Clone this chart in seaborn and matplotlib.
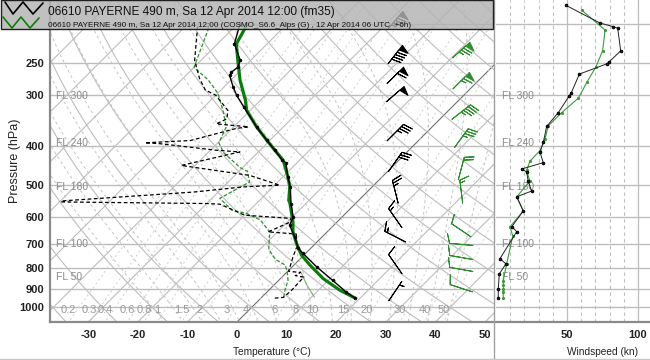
import numpy as np
import pandas as pd
import matplotlib
matplotlib.use("Agg")
import matplotlib.pyplot as plt
import matplotlib.transforms as mtransforms
from matplotlib.lines import Line2D
from matplotlib.patches import Rectangle
import seaborn as sns

# ---------------- data ----------------
obs_t_p = [949, 918, 859, 795, 737, 716, 671, 628, 600, 555, 505, 477, 440, 434, 410, 387, 359,
           320, 300, 286, 268, 263, 256, 246, 224, 200]
obs_t = [18.9, 16.0, 10.9, 4.9, -0.5, -2.5, -5.5, -8.9, -9.8, -13.0, -16.5, -19.0, -22.3, -23.5,
         -27.0, -30.7, -35.4, -42.1, -45.8, -48.2, -51.2, -51.5, -51.2, -52.1, -56.6, -59.5]

obs_td_p = [950, 946, 908, 843, 836, 821, 816, 753, 710, 660, 652, 619, 604, 593, 557, 555, 550,
            547, 520, 505, 500, 473, 447, 414, 410, 395, 393, 388, 362, 359, 353, 343, 327, 300,
            291, 273, 246, 200]
obs_td = [2.8, 4.4, 4.6, 4.4, 2.4, 2.8, 0.2, -1.8, -3.1, -5.8, -11.9, -9.6, -9.9, -20.0, -27.2,
          -30.0, -59.5, -59.9, -35.0, -26.0, -19.0, -27.0, -42.8, -33.7, -38.8, -51.5, -54.7,
          -46.0, -39.1, -37.0, -44.1, -43.0, -44.5, -50.0, -53.2, -56.6, -61.3, -68.0]

mod_t_p = [949, 908, 850, 787, 744, 697, 652, 616, 587, 555, 545, 505, 477, 434, 410, 387, 359,
           327, 308, 275, 241, 224, 200]
mod_t = [18.9, 14.3, 8.6, 3.2, -0.5, -3.8, -6.9, -8.9, -10.9, -13.2, -14.1, -16.6, -19.0, -23.3,
         -27.0, -30.7, -35.4, -40.7, -43.1, -48.2, -53.4, -56.2, -58.0]

mod_td_p = [945, 900, 859, 816, 787, 763, 721, 652, 609, 587, 576, 539, 491, 462, 453, 416, 393,
            359, 327, 297, 275, 256, 200]
mod_td = [4.4, 3.0, 1.9, -0.1, -1.8, -4.8, -8.2, -11.6, -15.9, -20.0, -23.6, -28.4, -25.7, -28.3,
          -30.4, -36.8, -39.8, -41.5, -45.5, -49.9, -54.6, -60.0, -65.5]

mod_aux_p = [945, 880, 816]
mod_aux = [10.6, 6.5, 2.6]

# wind speed profiles (kn)
obs_ws_p = [180, 199, 203, 205, 233, 248, 251, 266, 297, 301, 331, 358, 392, 415, 440, 456, 464,
            489, 517, 534, 579, 633, 651, 759, 782, 828, 901, 949]
obs_ws = [49.3, 73.2, 82.2, 85.7, 87.8, 79.8, 78.0, 58.7, 52.8, 51.6, 43.9, 35.7, 33.3, 31.0, 33.3,
          18.1, 21.6, 22.7, 25.1, 14.6, 19.2, 11.1, 14.6, 2.8, 7.0, 2.3, 1.6, 1.6]
mod_ws_p = [185, 207, 233, 255, 279, 305, 331, 357, 385, 411, 436, 460, 489, 534, 579, 633, 668,
            782, 860, 880, 900, 920, 949]
mod_ws = [60.4, 76.8, 75.1, 70.4, 63.9, 58.0, 46.3, 36.8, 34.5, 31.0, 23.9, 21.6, 23.9, 14.6, 19.2,
          9.9, 11.8, 7.5, 5.1, 5.1, 5.2, 5.1, 5.1]

# wind barbs: pressure, speed (kn), direction (deg, from)
obs_barb_p = [196, 238, 268, 298, 371, 438, 519, 603, 670, 783, 913]
obs_barb_spd = [85, 90, 60, 50, 35, 30, 25, 15, 15, 10, 5]
obs_barb_dir = [40, 38, 45, 49, 45, 35, 346, 325, 297, 325, 34]
mod_barb_p = [232, 276, 330, 383, 455, 519, 646, 700, 754, 807, 898]
mod_barb_spd = [75, 65, 45, 35, 20, 15, 10, 10, 10, 10, 10]
mod_barb_dir = [48, 45, 52, 36, 15, 353, 304, 275, 280, 280, 288]

isobars = [200, 250, 300, 400, 500, 600, 700, 800, 900, 1000]
p_ticks = [250, 300, 400, 500, 600, 700, 800, 900, 1000]
t_ticks = [-30, -20, -10, 0, 10, 20, 30, 40, 50]
ws_ticks = [50, 100]
mix_ratios = [0.2, 0.3, 0.4, 0.6, 0.8, 1, 1.5, 2, 3, 4, 6, 8, 10, 15, 20, 30, 40, 50]
mix_labels = ["0.2", "0.3", "0.4", "0.6", "0.8", "1", "1.5", "2", "3", "4", "6", "8", "10",
              "15", "20", "30", "40", "50"]
fl_labels = ["FL 300", "FL 240", "FL 180", "FL 100", "FL 50"]
fl_p = [300.9, 392.7, 505.9, 696.8, 843.1]
title1 = "06610 PAYERNE 490 m, Sa 12 Apr 2014 12:00 (fm35)"
title2 = "06610 PAYERNE 490 m, Sa 12 Apr 2014 12:00 (COSMO_S6.6_Alps (G) , 12 Apr 2014 06 UTC  +6h)"

# ---------------- setup ----------------
sns.set_theme(style="white")
plt.rcParams["font.family"] = ["Liberation Sans", "DejaVu Sans"]

P_BOT, P_TOP = 1088.0, 174.6
K = 35.48
XMIN, XMAX = -37.7, 51.8


def skew(t, p):
    return np.asarray(t, float) + K * np.log(P_BOT / np.asarray(p, float))


W, H = 650, 360


def box(l, t, r, b):
    return [l / W, 1 - b / H, (r - l) / W, (b - t) / H]


fig = plt.figure(figsize=(6.5, 3.6), dpi=100)
fig.patch.set_facecolor("white")
ax = fig.add_axes(box(50, 0, 494, 322))
axw = fig.add_axes(box(496, 0, 709, 322))

for a in (ax, axw):
    a.set_yscale("log")
    a.set_ylim(P_BOT, P_TOP)
    a.set_facecolor("white")
    a.minorticks_off()

ax.set_xlim(XMIN, XMAX)
axw.set_xlim(0, 150)

GRID = "#bdbdbd"
pp = np.geomspace(1100, 170, 300)

# isobars
for p in isobars:
    ax.axhline(p, color=GRID, lw=1.0, zorder=1)
    axw.axhline(p, color=GRID, lw=1.0, zorder=1)

# isotherms
for t in range(-130, 60, 10):
    ax.plot(skew(np.full_like(pp, t), pp), pp, color="#707070" if t == 0 else GRID,
            lw=0.8, zorder=1)

# dry adiabats
for th in range(233, 480, 10):
    tt = th * (pp / 1000.0) ** 0.2857 - 273.15
    ax.plot(skew(tt, pp), pp, color=GRID, lw=0.8, zorder=1)


# moist adiabats
def es(tc):
    return 6.112 * np.exp(17.67 * tc / (tc + 243.5))


def dTdp(T, p):
    Rd, Cp, Lv, eps = 287.04, 1005.7, 2.501e6, 0.622
    tc = T - 273.15
    rs = eps * es(tc) / (p - es(tc))
    return (Rd * T + Lv * rs) / (Cp + Lv * Lv * rs * eps / (Rd * T * T)) / p


def moist(t0, ps):
    T = t0 + 273.15
    out = [T]
    for i in range(1, len(ps)):
        dp = ps[i] - ps[i - 1]
        k1 = dTdp(T, ps[i - 1])
        k2 = dTdp(T + k1 * dp, ps[i])
        T = T + 0.5 * (k1 + k2) * dp
        out.append(T)
    return np.array(out) - 273.15


p_up = np.geomspace(1000, 170, 200)
p_dn = np.geomspace(1000, 1100, 20)
for tw in range(-20, 41, 4):
    tu = moist(tw, p_up)
    td_ = moist(tw, p_dn)
    ax.plot(skew(tu, p_up), p_up, color="#c4c4c4", lw=0.7, ls=(0, (3, 3)), zorder=1)
    ax.plot(skew(td_, p_dn), p_dn, color="#c4c4c4", lw=0.7, ls=(0, (3, 3)), zorder=1)


# mixing ratio lines
def td_from_w(w, p):
    e = w * p / (622.0 + w)
    l = np.log(e / 6.112)
    return 243.5 * l / (17.67 - l)


blend = mtransforms.blended_transform_factory(ax.transData, ax.transAxes)
for w, lab in zip(mix_ratios, mix_labels):
    ax.plot(skew(td_from_w(w, pp), pp), pp, color="#cfcfcf", lw=0.7, ls=(0, (2, 3)), zorder=1)
    ax.text(td_from_w(w, P_BOT), 0.037, lab, transform=blend, ha="center", va="center",
            fontsize=8, color="#9a9a9a", zorder=2)

# FL labels
for lab, p in zip(fl_labels, fl_p):
    ax.text(0.013, p, lab, transform=mtransforms.blended_transform_factory(ax.transAxes, ax.transData),
            fontsize=7.5, color="#8a8a8a", va="center", ha="left", zorder=2)
    axw.text(0.028, p, lab, transform=mtransforms.blended_transform_factory(axw.transAxes, axw.transData),
             fontsize=7.5, color="#8a8a8a", va="center", ha="left", zorder=2)

# wind panel vertical grid
for s in range(10, 150, 10):
    if s % 50 == 0:
        axw.axvline(s, color=GRID, lw=0.9, zorder=1)
    else:
        axw.axvline(s, color=GRID, lw=0.8, ls=(0, (3, 3)), zorder=1)

# ---------------- profiles ----------------
GREEN = "#0c7d0c"
GREEN2 = "#2f8f2f"
d_mod_t = pd.DataFrame({"x": skew(mod_t, mod_t_p), "p": mod_t_p})
d_obs_t = pd.DataFrame({"x": skew(obs_t, obs_t_p), "p": obs_t_p})
d_obs_td = pd.DataFrame({"x": skew(obs_td, obs_td_p), "p": obs_td_p})
d_mod_td = pd.DataFrame({"x": skew(mod_td, mod_td_p), "p": mod_td_p})
d_mod_aux = pd.DataFrame({"x": skew(mod_aux, mod_aux_p), "p": mod_aux_p})

sns.lineplot(data=d_mod_td, x="x", y="p", sort=False, estimator=None, color=GREEN2, lw=0.9,
             ls=(0, (3, 1.5)), ax=ax, zorder=3)
sns.lineplot(data=d_mod_aux, x="x", y="p", sort=False, estimator=None, color="#6aa86a", lw=0.7,
             ax=ax, zorder=3)
sns.lineplot(data=d_obs_td, x="x", y="p", sort=False, estimator=None, color="black", lw=0.9,
             ls=(0, (3, 2)), ax=ax, zorder=4)
sns.lineplot(data=d_mod_t, x="x", y="p", sort=False, estimator=None, color=GREEN, lw=2.3,
             ax=ax, zorder=5)
sns.lineplot(data=d_obs_t, x="x", y="p", sort=False, estimator=None, color="black", lw=1.0,
             marker="o", ms=2.0, mec="black", mew=0.5, ax=ax, zorder=6)

# barbs
def uv(spd, d):
    spd = np.asarray(spd, float)
    r = np.deg2rad(np.asarray(d, float))
    return -spd * np.sin(r), -spd * np.cos(r)


u, v = uv(obs_barb_spd, obs_barb_dir)
ax.barbs(np.full(len(obs_barb_p), 31.9), obs_barb_p, u, v, length=5.8, pivot="middle",
         color="black", lw=0.7, zorder=6)
u, v = uv(mod_barb_spd, mod_barb_dir)
ax.barbs(np.full(len(mod_barb_p), 45.2), mod_barb_p, u, v, length=5.8, pivot="middle",
         color=GREEN2, lw=0.7, zorder=6)

# wind speed panel
d_obs_ws = pd.DataFrame({"s": obs_ws, "p": obs_ws_p})
d_mod_ws = pd.DataFrame({"s": mod_ws, "p": mod_ws_p})
sns.lineplot(data=d_mod_ws, x="s", y="p", sort=False, estimator=None, color="#3c9a3c", lw=0.8,
             marker="o", ms=1.5, mec="#3c9a3c", ax=axw, zorder=4)
sns.lineplot(data=d_obs_ws, x="s", y="p", sort=False, estimator=None, color="#222222", lw=0.7,
             marker="o", ms=1.8, mec="black", ax=axw, zorder=5)

# ---------------- axes styling ----------------
ax.set_xticks(t_ticks)
ax.set_xticklabels([str(t) for t in t_ticks], fontweight="bold")
ax.set_yticks(p_ticks)
ax.set_yticklabels([str(p) for p in p_ticks], fontweight="bold")
ax.tick_params(axis="both", length=0, labelsize=8, colors="#222222")
ax.tick_params(axis="x", pad=6)
ax.tick_params(axis="y", pad=4)
ax.set_xlabel("Temperature (°C)", fontsize=7.3, color="#222222", labelpad=5)
ax.set_ylabel("Pressure (hPa)", fontsize=9, color="#222222")
ax.yaxis.label.set_va("center")
ax.yaxis.set_label_coords(-35 / 444, 0.5)
for s in ("top", "right"):
    ax.spines[s].set_visible(False)
for s in ("left", "bottom"):
    ax.spines[s].set_color("#8a8a8a")
    ax.spines[s].set_linewidth(1.6)
    ax.spines[s].set_zorder(8)

axw.set_xticks(ws_ticks)
axw.set_xticklabels([str(t) for t in ws_ticks], fontweight="bold")
axw.set_yticks([])
axw.tick_params(axis="x", length=0, labelsize=8, colors="#222222", pad=6)
axw.set_xlabel("Windspeed (kn)", fontsize=7.3, color="#222222", labelpad=5)
axw.set_ylabel("")
for s in ("top", "right", "left"):
    axw.spines[s].set_visible(False)
axw.spines["bottom"].set_color("#8a8a8a")
axw.spines["bottom"].set_linewidth(1.6)

# ---------------- frame decorations / legend ----------------
def fx(x):
    return x / W


def fy(y):
    return 1 - y / H


fig.add_artist(Line2D([fx(494), fx(494)], [0, 1], transform=fig.transFigure, color="#a0a0a0",
                      lw=1.0, zorder=9))
fig.add_artist(Line2D([0, 1], [fy(358.5), fy(358.5)], transform=fig.transFigure, color="#c8c8c8",
                      lw=1.0, zorder=9))

fig.add_artist(Rectangle((fx(0.5), fy(29)), fx(492.5), 29 / H, transform=fig.transFigure,
                         facecolor=(0.70, 0.70, 0.70, 0.82), edgecolor="#202020", lw=1.0, zorder=10))
zz_b = [(5, 2), (13, 14), (23, 2), (33, 14), (43, 3)]
zz_g = [(3, 17), (12, 28), (21, 17), (30, 28), (39, 18)]
fig.add_artist(Line2D([fx(a) for a, b in zz_b], [fy(b) for a, b in zz_b], transform=fig.transFigure,
                      color="black", lw=1.2, zorder=11))
fig.add_artist(Line2D([fx(a) for a, b in zz_g], [fy(b) for a, b in zz_g], transform=fig.transFigure,
                      color=GREEN, lw=1.2, zorder=11))
fig.text(fx(48), fy(15.5), title1, fontsize=8.6, color="#111111", va="baseline", ha="left", zorder=11)
fig.text(fx(48), fy(27), title2, fontsize=5.9, color="#111111", va="baseline", ha="left", zorder=11)

fig.savefig("out.png", dpi=100)
